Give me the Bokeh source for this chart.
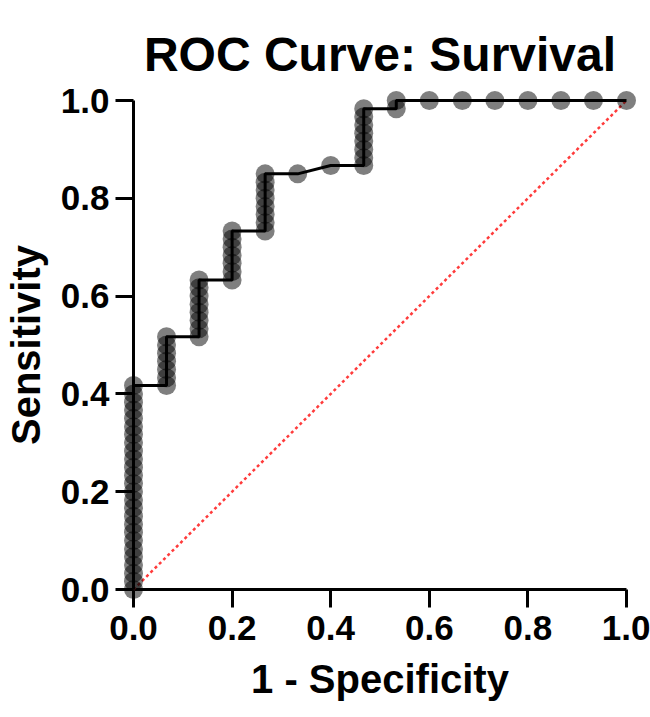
from bokeh.plotting import figure
from bokeh.models import FixedTicker, ColumnDataSource
from bokeh.embed import file_html
from bokeh.resources import INLINE

# ROC points (1 - specificity, sensitivity)
one_minus_spec = (
    [0.0] * 26
    + [0.067] * 7
    + [0.133] * 8
    + [0.2] * 7
    + [0.267] * 8
    + [0.333]
    + [0.4]
    + [0.467] * 8
    + [0.533] * 2
    + [0.6, 0.667, 0.733, 0.8, 0.867, 0.933, 1.0]
)
sensitivity = [
    0.0, 0.017, 0.033, 0.05, 0.067, 0.083, 0.1, 0.117, 0.133, 0.15, 0.167, 0.183, 0.2,
    0.217, 0.233, 0.25, 0.267, 0.283, 0.3, 0.317, 0.333, 0.35, 0.367, 0.383, 0.4, 0.417,
    0.417, 0.433, 0.45, 0.467, 0.483, 0.5, 0.517,
    0.517, 0.533, 0.55, 0.567, 0.583, 0.6, 0.617, 0.633,
    0.633, 0.65, 0.667, 0.683, 0.7, 0.717, 0.733,
    0.733, 0.75, 0.767, 0.783, 0.8, 0.817, 0.833, 0.85,
    0.85,
    0.867,
    0.867, 0.883, 0.9, 0.917, 0.933, 0.95, 0.967, 0.983,
    0.983, 1.0,
    1.0, 1.0, 1.0, 1.0, 1.0, 1.0, 1.0,
]
chance_x = [0.0, 1.0]
chance_y = [0.0, 1.0]
tick_values = [0.0, 0.2, 0.4, 0.6, 0.8, 1.0]
tick_labels = ["0.0", "0.2", "0.4", "0.6", "0.8", "1.0"]
chart_title = "ROC Curve: Survival"

FONT = "Liberation Sans"

p = figure(
    width=650, height=717,
    x_range=(0, 1), y_range=(0, 1),
    output_backend="svg", toolbar_location=None,
    title=chart_title,
    min_border_left=133, min_border_right=24, min_border_top=100, min_border_bottom=128,
)
p.title.align = "center"
p.title.text_font = FONT
p.title.text_font_size = "48px"
p.title.text_font_style = "bold"
p.title.text_color = "black"
p.title.standoff = 40

p.grid.visible = False
p.outline_line_color = None
p.background_fill_color = "white"
p.border_fill_color = "white"

src = ColumnDataSource(dict(x=one_minus_spec, y=sensitivity))

p.line(chance_x, chance_y, line_color="#ff3b3b", line_width=2.5, line_dash="3 3", level="overlay")
p.line("x", "y", source=src, line_color="black", line_width=3, level="overlay")
p.scatter("x", "y", source=src, size=19, fill_color="black", fill_alpha=0.5,
          line_color=None, level="overlay")

for ax in (p.xaxis[0], p.yaxis[0]):
    ax.ticker = FixedTicker(ticks=tick_values)
    ax.major_label_overrides = {v: s for v, s in zip(tick_values, tick_labels)}
    ax.axis_line_width = 3
    ax.axis_line_color = "black"
    ax.major_tick_line_width = 3
    ax.major_tick_line_color = "black"
    ax.major_tick_out = 18
    ax.major_tick_in = 0
    ax.minor_tick_line_color = None
    ax.major_label_text_font = FONT
    ax.major_label_text_font_style = "bold"
    ax.major_label_text_font_size = "35px"
    ax.major_label_text_color = "black"
    ax.axis_label_text_font = FONT
    ax.axis_label_text_font_style = "bold"
    ax.axis_label_text_font_size = "40px"
    ax.axis_label_text_color = "black"

p.xaxis.axis_label = "1 - Specificity"
p.yaxis.axis_label = "Sensitivity"
p.xaxis.major_label_standoff = 8
p.yaxis.major_label_standoff = 6
p.xaxis.axis_label_standoff = 14
p.yaxis.axis_label_standoff = 10

open("out.html", "w").write(file_html(p, INLINE))
